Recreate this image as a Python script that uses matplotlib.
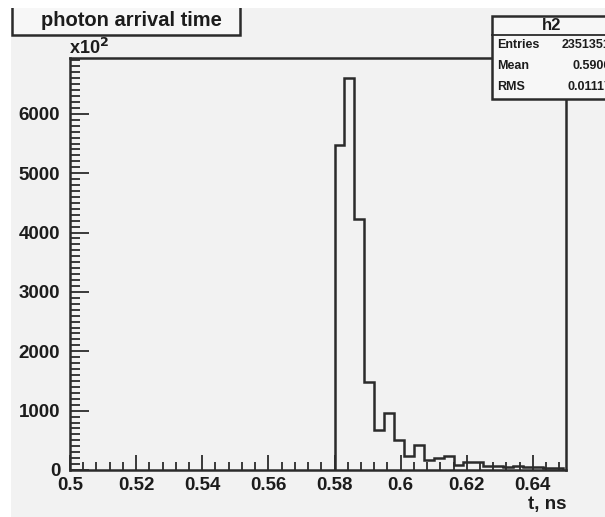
"""Photon arrival time histogram in ROOT style."""

import numpy as np
import matplotlib

matplotlib.use("Agg")
import matplotlib.pyplot as plt
from matplotlib.patches import Rectangle
from matplotlib.ticker import MultipleLocator

# histogram data, counts in units of 10^2
bin_start = 0.580
bin_width = 0.003
counts = [5470, 6610, 4230, 1490, 675, 965, 505, 240, 420, 170, 200, 235,
          80, 140, 135, 70, 75, 55, 60, 45, 55, 30, 40]
edges = bin_start + bin_width * np.arange(len(counts) + 1)

x_ticks = [0.5, 0.52, 0.54, 0.56, 0.58, 0.6, 0.62, 0.64]
x_tick_labels = ["0.5", "0.52", "0.54", "0.56", "0.58", "0.6", "0.62", "0.64"]
y_ticks = [0, 1000, 2000, 3000, 4000, 5000, 6000]

title = "photon arrival time"
stats_name = "h2"
stats_rows = [("Entries", "2351351"), ("Mean", "0.5906"), ("RMS", "0.01117")]

W, H = 605, 517
BG = "#f2f2f2"
INK = "#2b2b2b"
TXT = "#1c1c1c"
FONT = "Liberation Sans"


def px(x, y):
    """pixel (from top-left) -> figure fraction"""
    return x / W, 1 - y / H


fig = plt.figure(figsize=(W / 100, H / 100), dpi=100, facecolor=BG)
ax = fig.add_axes([70 / W, 1 - 470 / H, (566 - 70) / W, (470 - 58) / H])
ax.set_facecolor(BG)

ax.stairs(counts, edges, baseline=0, color=INK, lw=1.8, zorder=3)

ax.set_xlim(0.5, 0.65)
ax.set_ylim(0, max(counts) * 1.05)
ax.set_xticks(x_ticks)
ax.set_xticklabels(x_tick_labels)
ax.set_yticks(y_ticks)
ax.xaxis.set_minor_locator(MultipleLocator(0.004))
ax.yaxis.set_minor_locator(MultipleLocator(100))
ax.tick_params(which="both", direction="in", color=INK, width=1.3,
               top=False, right=False, labelsize=13.5)
ax.tick_params(axis="x", which="major", length=11, pad=5)
ax.tick_params(axis="x", which="minor", length=6)
ax.tick_params(axis="y", which="major", length=14, pad=7)
ax.tick_params(axis="y", which="minor", length=7)
for lab in ax.get_xticklabels() + ax.get_yticklabels():
    lab.set_fontfamily(FONT)
    lab.set_fontweight("bold")
    lab.set_color(TXT)
for side in ["left", "bottom", "top", "right"]:
    ax.spines[side].set_color(INK)
    ax.spines[side].set_linewidth(1.8)

fig.text(*px(69, 48), "x10$^{\\mathbf{2}}$", fontsize=13, fontweight="bold",
         family=FONT, va="center", ha="left", color=TXT)
fig.text(*px(567, 505), "t, ns", fontsize=13.5, fontweight="bold",
         family=FONT, va="center", ha="right", color=TXT)

# title box (its top edge is hidden under the white margin)
x0, y0 = px(12, 35)
x1, y1 = px(240, 2)
fig.patches.append(Rectangle((x0, y0), x1 - x0, y1 - y0, transform=fig.transFigure,
                             facecolor="#f7f7f7", edgecolor=INK, lw=1.8, zorder=4))
fig.text(*px(131, 21), title, fontsize=14.5, fontweight="bold", family=FONT,
         ha="center", va="center", color=TXT, zorder=5)

# white margins of the canvas
fig.patches.append(Rectangle((0, 0), 11 / W, 1, transform=fig.transFigure,
                             facecolor="white", edgecolor="none", zorder=6))
fig.patches.append(Rectangle((0, 1 - 8 / H), 1, 8 / H, transform=fig.transFigure,
                             facecolor="white", edgecolor="none", zorder=6))

# stats box
sx0, sy0 = px(492, 99)
sx1, sy1 = px(620, 16)
fig.patches.append(Rectangle((sx0, sy0), sx1 - sx0, sy1 - sy0, transform=fig.transFigure,
                             facecolor="#f7f7f7", edgecolor=INK, lw=1.8, zorder=4))
hx0, hy = px(492, 35)
fig.add_artist(plt.Line2D([hx0, 1], [hy, hy], transform=fig.transFigure,
                          color=INK, lw=1.3, zorder=5))
fig.text(*px(552, 26), stats_name, fontsize=12, fontweight="bold", family=FONT,
         ha="center", va="center", color=TXT, zorder=5)
for i, (name, value) in enumerate(stats_rows):
    yy = 45 + i * 21
    fig.text(*px(497, yy), name, fontsize=9, fontweight="bold", family=FONT,
             ha="left", va="center", color=TXT, zorder=5)
    fig.text(*px(611, yy), value, fontsize=9, fontweight="bold", family=FONT,
             ha="right", va="center", color=TXT, zorder=5)

fig.savefig("out.png", dpi=100, facecolor=BG)
